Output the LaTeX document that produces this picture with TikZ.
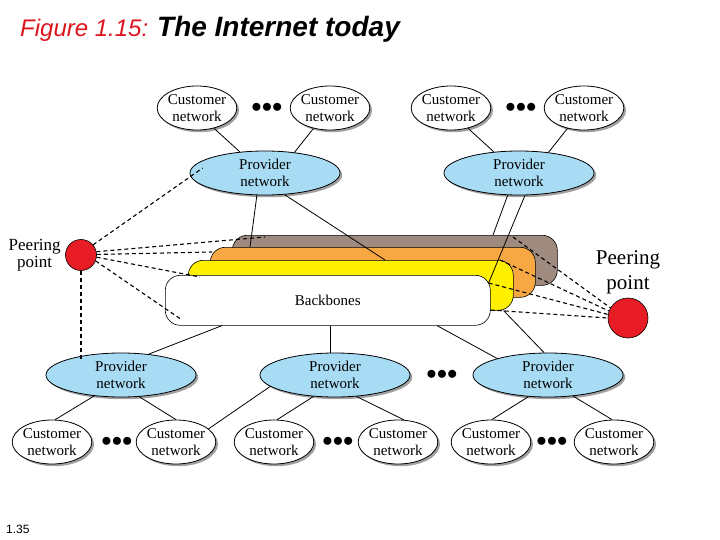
\documentclass[tikz,border=0pt]{standalone}
\usepackage{fontspec}
\setmainfont{Liberation Serif}
\newfontfamily\titlefont{Liberation Sans}
\usetikzlibrary{positioning}
\usetikzlibrary{shapes.geometric}
\usetikzlibrary{shadows}

\definecolor{provblue}{RGB}{168,220,245}
\definecolor{bbbrown}{RGB}{158,138,127}
\definecolor{bborange}{RGB}{247,168,66}
\definecolor{bbyellow}{RGB}{255,240,0}
\definecolor{peerred}{RGB}{232,28,36}
\definecolor{figred}{RGB}{220,20,30}

\begin{document}
\begin{tikzpicture}[x=1pt,y=-1pt,
    cust/.style={ellipse,draw,fill=white,line width=0.8pt,minimum width=78pt,minimum height=44pt,
        inner xsep=-1pt,inner ysep=0pt,align=center,font=\fontsize{15}{17}\selectfont,
        drop shadow={shadow xshift=2.2pt,shadow yshift=-2.2pt,opacity=0.75}},
    prov/.style={cust,fill=provblue,minimum width=150pt},
    backbone/.style={rectangle,draw,rounded corners=15pt,minimum width=325pt,minimum height=50pt,
        anchor=north west,line width=0.6pt},
    peer/.style={circle,draw,fill=peerred,line width=0.6pt},
    peerlink/.style={line width=1.1pt,dash pattern=on 4pt off 3pt},
    link/.style={line width=0.8pt},
    more/.style={font=\fontsize{20}{20}\selectfont}
]
\useasboundingbox (0,0) rectangle (720,540);

\node[anchor=base west,inner sep=0pt,font=\titlefont\itshape\fontsize{24}{24}\selectfont] (title) at (20,37)
    {\textcolor{figred}{Figure 1.15:} {\bfseries\fontsize{28}{28}\selectfont The Internet today}};
\node[anchor=base west,inner sep=0pt,font=\titlefont\fontsize{12}{12}\selectfont] (slideno) at (6,533) {1.35};

% backbones
\node[backbone,fill=bbbrown] (bbA) at (232,235) {};
\node[backbone,fill=bborange] (bbB) at (210,247) {};
\node[backbone,fill=bbyellow] (bbC) at (188,260) {};
\node[backbone,fill=white,font=\fontsize{15}{15}\selectfont] (bbD) at (165,275) {Backbones};

% upper networks
\node[cust] (cA1) at (197,108) {Customer\\network};
\node[cust] (cA2) at (330,108) {Customer\\network};
\node[cust] (cB1) at (451,108) {Customer\\network};
\node[cust] (cB2) at (584,108) {Customer\\network};
\node[more] (mA) at (267,108) {$\mathord{\bullet}\mathord{\bullet}\mathord{\bullet}$};
\node[more] (mB) at (521,108) {$\mathord{\bullet}\mathord{\bullet}\mathord{\bullet}$};
\node[prov] (pA) at (265,173) {Provider\\network};
\node[prov] (pB) at (519,173) {Provider\\network};

% lower networks
\node[prov] (pC) at (121,375) {Provider\\network};
\node[prov] (pD) at (335,375) {Provider\\network};
\node[prov] (pE) at (548,375) {Provider\\network};
\node[more] (mC) at (442,375) {$\mathord{\bullet}\mathord{\bullet}\mathord{\bullet}$};
\node[cust] (dA) at (52,442) {Customer\\network};
\node[cust] (dB) at (176,442) {Customer\\network};
\node[cust] (dC) at (274,442) {Customer\\network};
\node[cust] (dD) at (398,442) {Customer\\network};
\node[cust] (dE) at (491,442) {Customer\\network};
\node[cust] (dF) at (614,442) {Customer\\network};
\node[more] (mD) at (117,442) {$\mathord{\bullet}\mathord{\bullet}\mathord{\bullet}$};
\node[more] (mE) at (338,442) {$\mathord{\bullet}\mathord{\bullet}\mathord{\bullet}$};
\node[more] (mF) at (552,442) {$\mathord{\bullet}\mathord{\bullet}\mathord{\bullet}$};

% peering points
\node[peer,minimum size=31pt] (ppL) at (81,255) {};
\node[left=1pt of ppL,align=center,font=\fontsize{17}{17}\selectfont] (ppLtext) {Peering\\point};
\node[peer,minimum size=40pt] (ppR) at (628,318) {};
\node[above=0pt of ppR,align=center,font=\fontsize{21}{25}\selectfont] (ppRtext) {Peering\\point};

\draw[link] (cA1.-50) -- (pA.140);
\draw[link] (cA2.-129) -- (pA.35);
\draw[link] (cB1.-50) -- (pB.140);
\draw[link] (cB2.-129) -- (pB.35);
\draw[link] (pC.218) -- (dA.82);
\draw[link] (pC.-50) -- (dB.90);
\draw[link] (pD.190) -- (dB.22);
\draw[link] (pD.225) -- (dC.82);
\draw[link] (pD.-45) -- (dD.75);
\draw[link] (pE.228) -- (dE.88);
\draw[link] (pE.-40) -- (dF.95);

\draw[link] (pA.250) -- ([xshift=40pt]bbB.north west);
\draw[link] (pA.312) -- ([xshift=197pt]bbC.north west);
\draw[link] (pB.243) -- ([xshift=261pt]bbA.north west);
\draw[link] (pB.285) -- ([xshift=-2pt,yshift=-8pt]bbD.north east);
\draw[link] ([xshift=57pt]bbD.south west) -- (pC.37);
\draw[link] ([xshift=165pt]bbD.south west) -- ([xshift=165pt]bbD.south west |- pD.north);
\draw[link] ([xshift=272pt]bbD.south west) -- (pE.162);
\draw[link] ([xshift=-10pt]bbC.south east) -- (pE.100);

\draw[peerlink] (ppL.40) -- ([xshift=13pt,yshift=5pt]pA.west);
\draw[peerlink] (ppL.12) -- ([xshift=33pt,yshift=-2pt]bbA.north west);
\draw[peerlink] (ppL.2) -- ([xshift=2pt,yshift=-5pt]bbB.north west);
\draw[peerlink] (ppL.-8) -- ([xshift=12pt,yshift=-17pt]bbC.north west);
\draw[peerlink] (ppL.-22) -- ([xshift=15pt,yshift=7pt]bbD.south west);
\draw[peerlink] (ppL.south) -- ([yshift=-7pt]ppL.south |- pC.north);
\draw[peerlink] ([xshift=281pt,yshift=-2pt]bbA.north west) -- (ppR.150);
\draw[peerlink] ([xshift=290pt,yshift=-13pt]bbB.north west) -- (ppR.160);
\draw[peerlink] ([xshift=-2pt,yshift=-8pt]bbD.north east) -- (ppR.170);
\draw[peerlink] ([yshift=-35pt]bbD.north east) -- (ppR.180);
\end{tikzpicture}
\end{document}
